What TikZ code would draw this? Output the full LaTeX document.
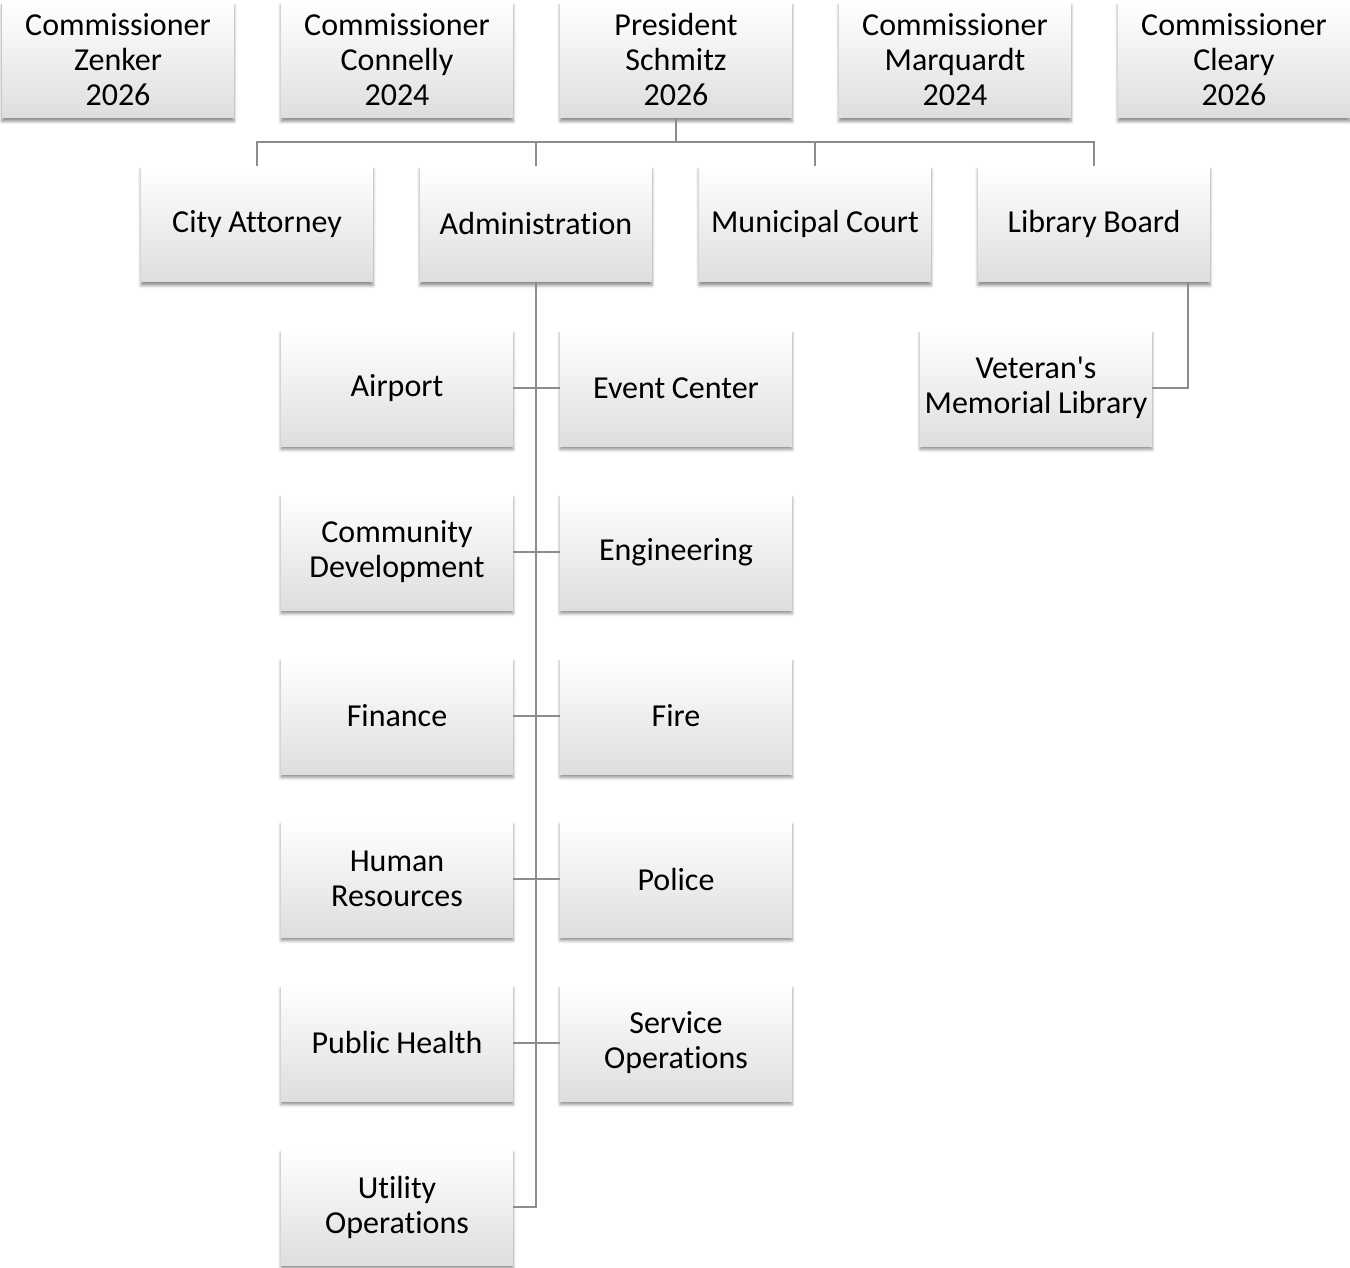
\documentclass[tikz,border=0pt]{standalone}
\usepackage{fontspec}
\newfontfamily\calfont{Carlito}[Ligatures=NoCommon]
\usetikzlibrary{shadows.blur}
\begin{document}
\begin{tikzpicture}[x=1pt,y=-1pt,
  box/.style={minimum width=232pt,minimum height=116pt,inner sep=0pt,
    text width=230pt,align=center,
    top color=white,bottom color=black!13,draw=none,
    font=\fontsize{32}{35}\calfont,
    execute at begin node={\spaceskip=6.5pt\relax},
    blur shadow={shadow xshift=0pt,shadow yshift=-3.5pt,shadow blur radius=3pt,shadow opacity=45}},
  link/.style={draw=black!45,line width=2pt}]
\useasboundingbox (0,0) rectangle (1350,1268);
% top row
\node[box] (zen) at (118,60) {Commissioner\\Zenker\\2026};
\node[box] (con) at (397,60) {Commissioner\\Connelly\\2024};
\node[box] (pre) at (676,60) {President\\Schmitz\\2026};
\node[box] (mar) at (955,60) {Commissioner\\Marquardt\\2024};
\node[box] (cle) at (1234,60) {Commissioner\\Cleary\\2026};
% second row
\node[box] (att) at (257,224) {City Attorney};
\node[box] (adm) at (536,224) {Administration};
\node[box] (mun) at (815,224) {Municipal Court};
\node[box] (lib) at (1094,224) {Library Board};
% departments
\node[box] (air) at (397,388) {Airport};
\node[box] (evt) at (676,388) {Event Center};
\node[box] (com) at (397,552) {Community\\Development};
\node[box] (eng) at (676,552) {Engineering};
\node[box] (fin) at (397,716) {Finance};
\node[box] (fir) at (676,716) {Fire};
\node[box] (hum) at (397,879) {Human\\Resources};
\node[box] (pol) at (676,879) {Police};
\node[box] (pub) at (397,1043) {Public Health};
\node[box] (ser) at (676,1043) {Service\\Operations};
\node[box] (uti) at (397,1207) {Utility\\Operations};
\node[box] (vml) at (1036,388) {Veteran's\\Memorial Library};
% connectors
\coordinate (bus) at (676,142);
\draw[link] (pre.south) -- (bus);
\draw[link] (att.north) |- (bus) -| (lib.north);
\draw[link] (adm.north) -- (adm.north |- bus);
\draw[link] (mun.north) -- (mun.north |- bus);
\draw[link] (adm.south) |- (uti.east);
\draw[link] (air.east) -- (evt.west);
\draw[link] (com.east) -- (eng.west);
\draw[link] (fin.east) -- (fir.west);
\draw[link] (hum.east) -- (pol.west);
\draw[link] (pub.east) -- (ser.west);
\coordinate (lbx) at (1188,282);
\draw[link] (lbx) |- (vml.east);
\end{tikzpicture}
\end{document}
